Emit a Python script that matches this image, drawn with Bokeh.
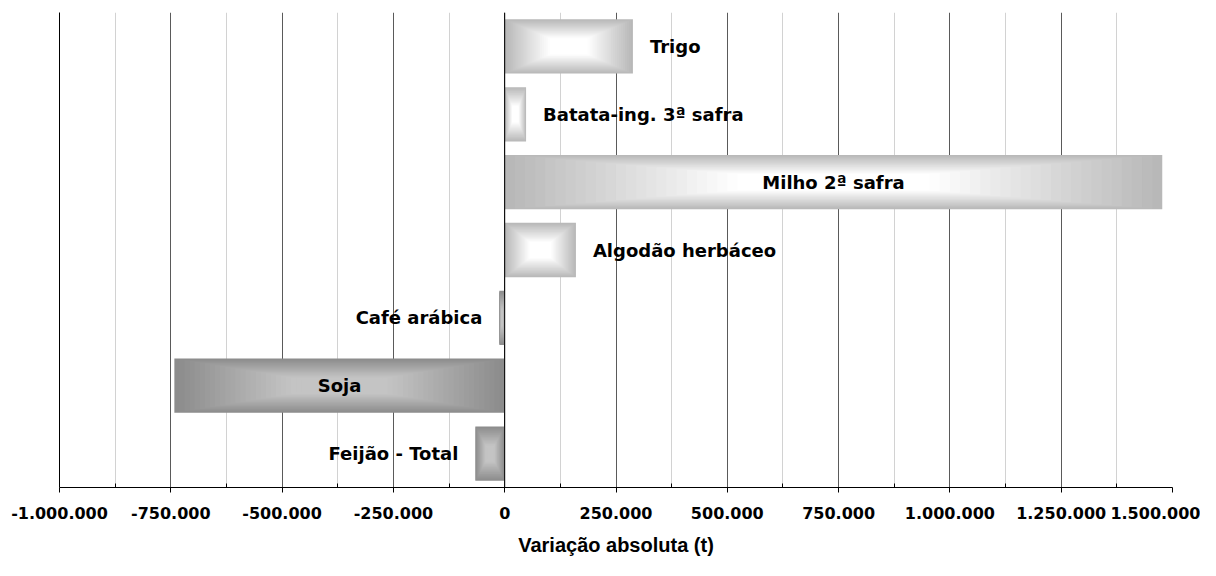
from bokeh.plotting import figure
from bokeh.models import Range1d, FixedTicker, CustomJSTickFormatter, Span, ColumnDataSource
from bokeh.embed import file_html
from bokeh.resources import INLINE
from bokeh.core.properties import value

# ---- data ----
categories = ["Trigo", "Batata-ing. 3ª safra", "Milho 2ª safra", "Algodão herbáceo",
              "Café arábica", "Soja", "Feijão - Total"]
values = [288000, 48000, 1477000, 160000, -12000, -742000, -66000]
tick_values = [-1000000, -750000, -500000, -250000, 0, 250000, 500000, 750000,
               1000000, 1250000, 1500000]
x_title = "Variação absoluta (t)"

# ---- styling helpers ----
LIGHT_EDGE, LIGHT_CENTER = (184, 184, 184), (255, 255, 255)
DARK_EDGE, DARK_CENTER = (140, 140, 140), (196, 196, 196)
STEPS = 26
BAR_HALF = 0.4

def lerp(a, b, t):
    return "#%02x%02x%02x" % tuple(int(round(a[j] + (b[j] - a[j]) * t)) for j in range(3))

n = len(categories)
ypos = [n - 1 - i for i in range(n)]

left, right, top, bottom, colors = [], [], [], [], []
for v, y in zip(values, ypos):
    edge, center = (LIGHT_EDGE, LIGHT_CENTER) if v >= 0 else (DARK_EDGE, DARK_CENTER)
    cx, hw = v / 2.0, abs(v) / 2.0
    for k in range(STEPS + 1):
        f = k / STEPS
        shrink = 1 - 0.8 * f
        left.append(cx - hw * shrink)
        right.append(cx + hw * shrink)
        top.append(y + BAR_HALF * shrink)
        bottom.append(y - BAR_HALF * shrink)
        colors.append(lerp(edge, center, min(1.0, f * 1.15)))

bars = ColumnDataSource(dict(left=left, right=right, top=top, bottom=bottom, color=colors))

p = figure(width=1200, height=560, output_backend="svg", toolbar_location=None,
           x_range=Range1d(tick_values[0], tick_values[-1]), y_range=Range1d(-0.5, n - 0.5),
           min_border_left=59, min_border_right=28, min_border_top=12, min_border_bottom=73)
p.outline_line_color = None

# grid
minor = [(a + b) / 2 for a, b in zip(tick_values[:-1], tick_values[1:])]
p.xaxis.ticker = FixedTicker(ticks=tick_values, minor_ticks=minor)
p.xgrid.ticker = FixedTicker(ticks=tick_values, minor_ticks=minor)
p.xgrid.grid_line_color = "#5a5a5a"
p.xgrid.minor_grid_line_color = "#d2d2d2"
p.ygrid.grid_line_color = None

p.quad(left="left", right="right", top="top", bottom="bottom", source=bars,
       fill_color="color", line_color=None)

p.add_layout(Span(location=0, dimension="height", line_color="black", line_width=1))

# labels
inside = [abs(v) > 500000 for v in values]
lab_x, lab_y, lab_t, lab_al, lab_off = [], [], [], [], []
for c, v, y, ins in zip(categories, values, ypos, inside):
    if ins:
        lab_x.append(v / 2.0); lab_al.append("center"); lab_off.append(0)
    elif v >= 0:
        lab_x.append(v); lab_al.append("left"); lab_off.append(17)
    else:
        lab_x.append(v); lab_al.append("right"); lab_off.append(-17)
    lab_y.append(y); lab_t.append(c)
labels = ColumnDataSource(dict(x=lab_x, y=lab_y, text=lab_t, align=lab_al, off=lab_off))
p.text(x="x", y="y", text="text", source=labels, text_align="align", x_offset="off",
       text_baseline="middle", text_font=value("DejaVu Sans"), text_font_style="bold",
       text_font_size="18px", text_color="black")

# axes
xa = p.xaxis[0]
xa.formatter = CustomJSTickFormatter(
    code="return Math.round(tick).toString().replace(/\\B(?=(\\d{3})+(?!\\d))/g, '.');")
xa.axis_line_color = "black"
xa.major_tick_line_color = "black"
xa.minor_tick_line_color = "black"
xa.major_tick_out = 5
xa.major_tick_in = 0
xa.minor_tick_out = 0
xa.minor_tick_in = 4
xa.major_label_standoff = 14
xa.major_label_text_font = "DejaVu Sans"
xa.major_label_text_font_style = "bold"
xa.major_label_text_font_size = "16px"
xa.major_label_text_color = "black"
xa.axis_label = x_title
xa.axis_label_text_font = "Liberation Sans"
xa.axis_label_text_font_style = "bold"
xa.axis_label_text_font_size = "20px"
xa.axis_label_text_color = "black"
xa.axis_label_standoff = 12

ya = p.yaxis[0]
ya.ticker = FixedTicker(ticks=[])
ya.axis_line_color = "black"
ya.major_tick_line_color = None
ya.minor_tick_line_color = None
ya.major_label_text_font_size = "0px"

open("out.html", "w").write(file_html(p, INLINE))
